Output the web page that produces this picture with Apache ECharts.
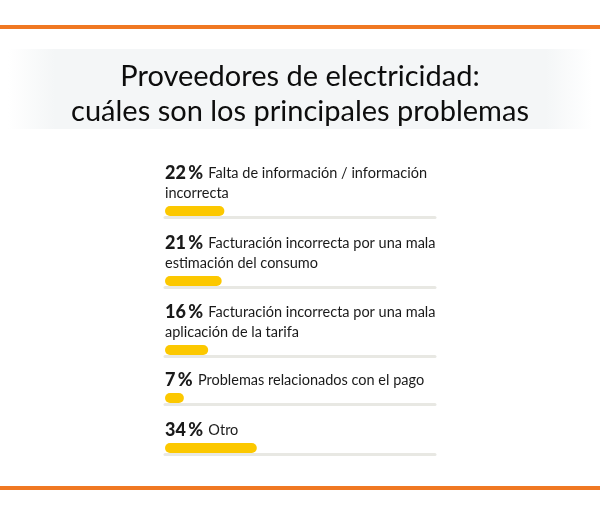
<!DOCTYPE html>
<html>
<head>
<meta charset="utf-8">
<script src="https://cdn.jsdelivr.net/npm/echarts@6/dist/echarts.min.js"></script>
<style>
  html, body { margin: 0; padding: 0; background: #fff; }
  #chart { width: 600px; height: 515px; }
</style>
</head>
<body>
<div id="chart"></div>
<script>
// datos
const categories = [
  'Falta de información / información\nincorrecta',
  'Facturación incorrecta por una mala\nestimación del consumo',
  'Facturación incorrecta por una mala\naplicación de la tarifa',
  'Problemas relacionados con el pago',
  'Otro'
]
const values = [22, 21, 16, 7, 34]
const titleText = 'Proveedores de electricidad:\ncuáles son los principales problemas'

// posición vertical de cada barra (px)
const gridTops = [205, 275, 344, 392, 442]

const chart = echarts.init(document.getElementById('chart'))

const grids = gridTops.map(top => ({ left: 165, width: 270, top: top, height: 12 }))

const xAxes = gridTops.map((t, i) => ({
  type: 'value',
  gridIndex: i,
  min: 0,
  max: 100,
  axisLine: { show: true, lineStyle: { color: '#e8e8e3', width: 3 } },
  axisTick: { show: false },
  axisLabel: { show: false },
  splitLine: { show: false }
}))

const yAxes = gridTops.map((t, i) => ({
  type: 'category',
  gridIndex: i,
  data: [categories[i]],
  show: false
}))

const series = values.map((v, i) => ({
  type: 'bar',
  xAxisIndex: i,
  yAxisIndex: i,
  data: [v],
  barWidth: 10,
  itemStyle: { color: '#fcc800', borderRadius: 5 },
  label: {
    show: true,
    position: [0, -3],
    align: 'left',
    verticalAlign: 'bottom',
    formatter: () => '{p|' + values[i] + '\u2009%} {t|' + categories[i] + '}',
    rich: {
      p: { fontFamily: 'Lato', fontWeight: 900, fontSize: 18, color: '#1a1a1a', lineHeight: 20, padding: [0, 2, 0, 0] },
      t: { fontFamily: 'Lato', fontSize: 14.5, color: '#1a1a1a', lineHeight: 20 }
    }
  },
  silent: true
}))

const option = {
  backgroundColor: '#fff',
  animation: false,
  title: {
    text: titleText,
    left: 'center',
    top: 54,
    textStyle: {
      fontFamily: 'Lato',
      fontWeight: 'normal',
      fontSize: 29,
      lineHeight: 35,
      color: '#0d0d0d'
    }
  },
  graphic: [
    { type: 'rect', left: 0, top: 25, shape: { width: 600, height: 4 }, style: { fill: '#f07822' }, z: -1 },
    { type: 'rect', left: 0, top: 486, shape: { width: 600, height: 4 }, style: { fill: '#f07822' }, z: -1 },
    {
      type: 'rect', left: 8, top: 49, z: -2,
      shape: { width: 584, height: 80 },
      style: {
        fill: new echarts.graphic.LinearGradient(0, 0, 1, 0, [
          { offset: 0, color: '#ffffff' },
          { offset: 0.08, color: '#f4f6f7' },
          { offset: 0.92, color: '#f4f6f7' },
          { offset: 1, color: '#ffffff' }
        ])
      }
    }
  ],
  grid: grids,
  xAxis: xAxes,
  yAxis: yAxes,
  series: series
}

chart.setOption(option)
</script>
</body>
</html>
